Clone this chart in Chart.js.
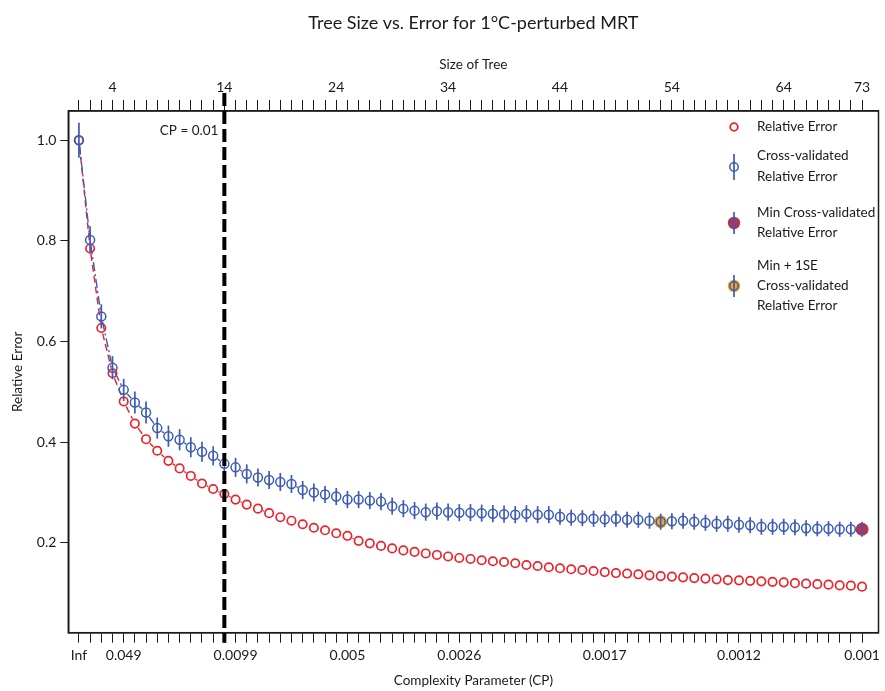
<!DOCTYPE html>
<html>
<head>
<meta charset="utf-8">
<script src="https://cdn.jsdelivr.net/npm/chart.js@4.4.1/dist/chart.umd.min.js"></script>
<style>
html, body { margin: 0; padding: 0; background: #fff; }
</style>
</head>
<body>
<canvas id="chart" width="885" height="691"></canvas>
<script>
// cp table rows
const treeIndex = Array.from({length: 71}, (_, i) => i);

const relErr = [
    1.000, 0.785, 0.627, 0.537, 0.481, 0.437, 0.406, 0.383, 0.363, 0.348,
    0.333, 0.318, 0.307, 0.297, 0.286, 0.276, 0.268, 0.259, 0.251, 0.244,
    0.237, 0.230, 0.225, 0.219, 0.214, 0.204, 0.199, 0.194, 0.189, 0.185,
    0.182, 0.179, 0.176, 0.173, 0.170, 0.168, 0.1655, 0.1635, 0.162, 0.1595,
    0.156, 0.154, 0.1515, 0.1495, 0.1475, 0.146, 0.144, 0.142, 0.140, 0.139,
    0.1375, 0.1355, 0.134, 0.133, 0.1315, 0.130, 0.129, 0.1275, 0.126, 0.1255,
    0.1245, 0.1235, 0.1225, 0.1215, 0.120, 0.119, 0.118, 0.117, 0.1155, 0.115,
    0.113
];

const xErr = [
    1.000, 0.802, 0.650, 0.548, 0.504, 0.479, 0.459, 0.428, 0.412, 0.405,
    0.390, 0.381, 0.373, 0.357, 0.350, 0.337, 0.330, 0.325, 0.321, 0.317,
    0.305, 0.300, 0.296, 0.292, 0.286, 0.286, 0.284, 0.282, 0.273, 0.268,
    0.264, 0.261, 0.263, 0.261, 0.260, 0.260, 0.259, 0.258, 0.257, 0.256,
    0.258, 0.256, 0.256, 0.252, 0.250, 0.249, 0.248, 0.247, 0.248, 0.246,
    0.246, 0.244, 0.242, 0.243, 0.244, 0.242, 0.240, 0.238, 0.238, 0.236,
    0.235, 0.232, 0.232, 0.232, 0.231, 0.229, 0.228, 0.228, 0.227, 0.227,
    0.227
];

const xStd = [
    0.035, 0.027, 0.024, 0.023, 0.022, 0.022, 0.022, 0.021, 0.021, 0.021,
    0.020, 0.020, 0.019, 0.019, 0.019, 0.019, 0.018, 0.018, 0.018, 0.018,
    0.018, 0.018, 0.017, 0.017, 0.017, 0.017, 0.017, 0.017, 0.017, 0.017,
    0.017, 0.017, 0.017, 0.017, 0.017, 0.017, 0.017, 0.017, 0.017, 0.017,
    0.017, 0.017, 0.017, 0.016, 0.016, 0.016, 0.016, 0.016, 0.016, 0.016,
    0.016, 0.016, 0.016, 0.016, 0.016, 0.016, 0.016, 0.016, 0.016, 0.016,
    0.016, 0.016, 0.016, 0.016, 0.016, 0.016, 0.015, 0.015, 0.015, 0.015,
    0.015
];

const minIdx = 70;      // min cross-validated error
const oneSeIdx = 52;    // min + 1SE choice
const cpLineIdx = 13;   // CP = 0.01

const sizeTickIdx = [3, 13, 23, 33, 43, 53, 63, 70];
const sizeTickLabels = ['4', '14', '24', '34', '44', '54', '64', '73'];
const cpTickIdx = [0, 4, 14, 24, 34, 47, 59, 70];
const cpTickLabels = ['Inf', '0.049', '0.0099', '0.005', '0.0026', '0.0017', '0.0012', '0.001'];
const yTicks = [0.2, 0.4, 0.6, 0.8, 1.0];

const RED = '#e8232b';
const BLUE = '#3d5bb3';
const ORANGE = '#f3a425';
const INK = '#1a1a1a';
const FONT = 'Lato, "Open Sans", sans-serif';

function labelFor(v, idxs, labels) {
    const k = idxs.indexOf(Math.round(v));
    return k >= 0 && Math.abs(v - Math.round(v)) < 1e-6 ? labels[k] : '';
}

function drawGapLine(ctx, x, y, vals, color, dash, gap) {
    ctx.strokeStyle = color;
    ctx.lineWidth = 1.4;
    ctx.setLineDash(dash);
    for (let i = 0; i < vals.length - 1; i++) {
        const x0 = x.getPixelForValue(i), y0 = y.getPixelForValue(vals[i]);
        const x1 = x.getPixelForValue(i + 1), y1 = y.getPixelForValue(vals[i + 1]);
        const len = Math.hypot(x1 - x0, y1 - y0);
        if (len <= 2 * gap + 1) continue;
        const ux = (x1 - x0) / len, uy = (y1 - y0) / len;
        ctx.beginPath();
        ctx.moveTo(x0 + ux * gap, y0 + uy * gap);
        ctx.lineTo(x1 - ux * gap, y1 - uy * gap);
        ctx.stroke();
    }
}

const extras = {
    id: 'extras',
    beforeDatasetsDraw(chart) {
        const {ctx, chartArea: a, scales: {x, y}} = chart;
        ctx.save();
        ctx.beginPath();
        ctx.rect(a.left, a.top, a.right - a.left, a.bottom - a.top);
        ctx.clip();
        drawGapLine(ctx, x, y, relErr, RED, [7, 4], 5.5);
        drawGapLine(ctx, x, y, xErr, BLUE, [9, 3, 2, 3], 5.5);
        ctx.restore();
    },
    afterDatasetsDraw(chart) {
        const {ctx, chartArea: a, scales: {x, y}} = chart;
        ctx.save();
        // error bars
        ctx.strokeStyle = BLUE;
        ctx.lineWidth = 1.7;
        ctx.setLineDash([]);
        treeIndex.forEach(i => {
            const px = x.getPixelForValue(i);
            ctx.beginPath();
            ctx.moveTo(px, y.getPixelForValue(xErr[i] - xStd[i]));
            ctx.lineTo(px, y.getPixelForValue(xErr[i] + xStd[i]));
            ctx.stroke();
        });
        // plot box
        ctx.strokeStyle = INK;
        ctx.lineWidth = 1.5;
        ctx.strokeRect(a.left, a.top, a.right - a.left, a.bottom - a.top);
        // CP = 0.01 line
        const cx = x.getPixelForValue(cpLineIdx);
        ctx.strokeStyle = '#000';
        ctx.lineWidth = 4;
        ctx.setLineDash([13, 5]);
        ctx.beginPath();
        ctx.moveTo(cx, a.top - 18);
        ctx.lineTo(cx, a.bottom + 10);
        ctx.stroke();
        ctx.setLineDash([]);
        ctx.fillStyle = INK;
        ctx.font = '13.5px ' + FONT;
        ctx.textAlign = 'right';
        ctx.textBaseline = 'middle';
        ctx.fillText('CP = 0.01', cx - 6, a.top + 20);
        ctx.restore();
    },
    afterDraw(chart) {
        const {ctx} = chart;
        const sx = 734, tx = 757;
        ctx.save();
        ctx.font = '13.5px ' + FONT;
        ctx.fillStyle = INK;
        ctx.textAlign = 'left';
        ctx.textBaseline = 'middle';
        const circle = (cy, r, fill, stroke, lw) => {
            ctx.beginPath();
            ctx.arc(sx, cy, r, 0, Math.PI * 2);
            if (fill) { ctx.fillStyle = fill; ctx.fill(); }
            if (stroke) { ctx.strokeStyle = stroke; ctx.lineWidth = lw; ctx.stroke(); }
        };
        const bar = (cy, h) => {
            ctx.strokeStyle = BLUE;
            ctx.lineWidth = 1.7;
            ctx.beginPath();
            ctx.moveTo(sx, cy - h);
            ctx.lineTo(sx, cy + h);
            ctx.stroke();
        };
        circle(127, 3.8, null, RED, 1.8);
        circle(167, 4.2, null, BLUE, 1.5); bar(167, 13);
        circle(223, 6.2, RED, null); circle(223, 4.2, null, BLUE, 1.5); bar(223, 11);
        circle(286, 6.2, ORANGE, null); circle(286, 4.2, null, BLUE, 1.5); bar(286, 11);
        ctx.fillStyle = INK;
        const text = [
            ['Relative Error', 127],
            ['Cross-validated', 156], ['Relative Error', 177],
            ['Min Cross-validated', 213], ['Relative Error', 233],
            ['Min + 1SE', 266], ['Cross-validated', 286], ['Relative Error', 306]
        ];
        text.forEach(([t, ty]) => ctx.fillText(t, tx, ty));
        ctx.restore();
    }
};

const axisGrid = {drawOnChartArea: false, drawTicks: true, color: INK, lineWidth: 1};

new Chart(document.getElementById('chart'), {
    type: 'scatter',
    data: {
        datasets: [
            {
                label: 'Min Cross-validated Relative Error',
                data: [{x: minIdx, y: xErr[minIdx]}],
                pointRadius: 6.5, backgroundColor: RED, borderWidth: 0, order: 3
            },
            {
                label: 'Min + 1SE',
                data: [{x: oneSeIdx, y: xErr[oneSeIdx]}],
                pointRadius: 6.5, backgroundColor: ORANGE, borderWidth: 0, order: 3
            },
            {
                label: 'Relative Error',
                data: treeIndex.map(i => ({x: i, y: relErr[i]})),
                pointRadius: 4.2, borderColor: RED, borderWidth: 1.7,
                backgroundColor: 'rgba(0,0,0,0)', order: 2
            },
            {
                label: 'Cross-validated Relative Error',
                data: treeIndex.map(i => ({x: i, y: xErr[i]})),
                pointRadius: 4.5, borderColor: BLUE, borderWidth: 1.5,
                backgroundColor: 'rgba(0,0,0,0)', order: 1
            }
        ]
    },
    options: {
        responsive: false,
        animation: false,
        layout: {padding: {left: 0, right: 3, top: 0, bottom: 0}},
        plugins: {
            legend: {display: false},
            tooltip: {enabled: false},
            title: {
                display: true,
                fullSize: false,
                text: 'Tree Size vs. Error for 1°C-perturbed MRT',
                color: INK,
                font: {family: FONT, size: 18, weight: 'normal'},
                padding: {top: 12, bottom: 5}
            }
        },
        scales: {
            x: {
                type: 'linear', position: 'bottom',
                min: -0.95, max: 71.47,
                afterBuildTicks: axis => { axis.ticks = treeIndex.map(v => ({value: v})); },
                afterFit: axis => { axis.height = 58.3; },
                ticks: {
                    autoSkip: false, maxRotation: 0, color: INK, padding: 4,
                    font: {family: FONT, size: 14},
                    callback: v => labelFor(v, cpTickIdx, cpTickLabels)
                },
                grid: Object.assign({tickLength: 10}, axisGrid),
                border: {display: true, color: INK, width: 1.5},
                title: {
                    display: true, text: 'Complexity Parameter (CP)', color: INK,
                    font: {family: FONT, size: 13.5}, padding: {top: 2, bottom: 2}
                }
            },
            x2: {
                type: 'linear', position: 'top',
                min: -0.95, max: 71.47,
                afterBuildTicks: axis => { axis.ticks = treeIndex.map(v => ({value: v})); },
                afterFit: axis => { axis.height = 72.3; },
                ticks: {
                    autoSkip: false, maxRotation: 0, color: INK, padding: 4,
                    font: {family: FONT, size: 14},
                    callback: v => labelFor(v, sizeTickIdx, sizeTickLabels)
                },
                grid: Object.assign({tickLength: 11}, axisGrid),
                border: {display: true, color: INK, width: 1.5},
                title: {
                    display: true, text: 'Size of Tree', color: INK,
                    font: {family: FONT, size: 13.5}, padding: {top: 18, bottom: 0}
                }
            },
            y: {
                type: 'linear', position: 'left',
                min: 0.0215, max: 1.0583,
                afterBuildTicks: axis => { axis.ticks = yTicks.map(v => ({value: v})); },
                afterFit: axis => { axis.width = 68.3; },
                ticks: {
                    color: INK, padding: 4,
                    font: {family: FONT, size: 14},
                    callback: v => v.toFixed(1)
                },
                grid: Object.assign({tickLength: 8}, axisGrid),
                border: {display: true, color: INK, width: 1.5},
                title: {
                    display: true, text: 'Relative Error', color: INK,
                    font: {family: FONT, size: 13.5}, padding: {top: 10, bottom: 0}
                }
            }
        }
    },
    plugins: [extras]
});
</script>
</body>
</html>
